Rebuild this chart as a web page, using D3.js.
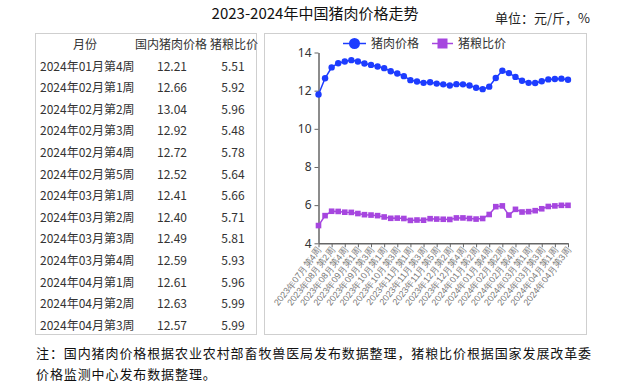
<!DOCTYPE html>
<html>
<head>
<meta charset="utf-8">
<script src="https://cdn.jsdelivr.net/npm/d3@7"></script>
<style>
  body { margin: 0; background: #fff; }
  svg { display: block; font-family: "Noto Sans CJK SC", "Noto Sans", sans-serif; }
</style>
</head>
<body>
<svg id="chart" width="631" height="387"></svg>
<script>
// weeks shown on the chart, 2023-07 wk4 .. 2024-04 wk3
var weeks = [
  "2023年07月第4周", "2023年08月第1周", "2023年08月第2周", "2023年08月第3周", "2023年08月第4周",
  "2023年08月第5周", "2023年09月第1周", "2023年09月第2周", "2023年09月第3周", "2023年09月第4周",
  "2023年10月第1周", "2023年10月第2周", "2023年10月第3周", "2023年10月第4周", "2023年11月第1周",
  "2023年11月第2周", "2023年11月第3周", "2023年11月第4周", "2023年11月第5周", "2023年12月第1周",
  "2023年12月第2周", "2023年12月第3周", "2023年12月第4周", "2024年01月第1周", "2024年01月第2周",
  "2024年01月第3周", "2024年01月第4周", "2024年02月第1周", "2024年02月第2周", "2024年02月第3周",
  "2024年02月第4周", "2024年02月第5周", "2024年03月第1周", "2024年03月第2周", "2024年03月第3周",
  "2024年03月第4周", "2024年04月第1周", "2024年04月第2周", "2024年04月第3周"
];
var porkPrice = [
  11.80, 12.65, 13.22, 13.44, 13.53, 13.60, 13.53, 13.42, 13.35, 13.27,
  13.18, 13.02, 12.90, 12.76, 12.55, 12.48, 12.41, 12.44, 12.37, 12.33,
  12.27, 12.34, 12.33, 12.27, 12.15, 12.08, 12.21, 12.66, 13.04, 12.92,
  12.72, 12.52, 12.41, 12.40, 12.49, 12.59, 12.61, 12.63, 12.57
];
var hogGrainRatio = [
  4.93, 5.45, 5.68, 5.67, 5.63, 5.62, 5.56, 5.50, 5.48, 5.45,
  5.38, 5.31, 5.32, 5.30, 5.20, 5.22, 5.21, 5.29, 5.27, 5.26,
  5.25, 5.33, 5.33, 5.30, 5.27, 5.30, 5.51, 5.92, 5.96, 5.48,
  5.78, 5.64, 5.66, 5.71, 5.81, 5.93, 5.96, 5.99, 5.99
];
var yTicks = [4, 6, 8, 10, 12, 14];
var tableHeader = ["月份", "国内猪肉价格", "猪粮比价"];
var tableRows = 13; // last 13 weeks go in the table

var title = "2023-2024年中国猪肉价格走势";
var unitText = "单位：元/斤，%";
var noteLines = [
  "注：国内猪肉价格根据农业农村部畜牧兽医局发布数据整理，猪粮比价根据国家发展改革委",
  "价格监测中心发布数据整理。"
];

var porkColor = "#1d3cff";
var ratioColor = "#a646df";

var svg = d3.select("#chart");

// title + unit
svg.append("text").attr("x", 315).attr("y", 19).attr("text-anchor", "middle")
  .attr("font-size", 15).attr("fill", "#111").text(title);
svg.append("text").attr("x", 590).attr("y", 23).attr("text-anchor", "end")
  .attr("font-size", 13).attr("fill", "#222").text(unitText);

// panels
svg.append("rect").attr("x", 35.5).attr("y", 33.5).attr("width", 221).attr("height", 301)
  .attr("fill", "none").attr("stroke", "#cfcfcf");
svg.append("rect").attr("x", 264.5).attr("y", 33.5).attr("width", 322).attr("height", 301)
  .attr("fill", "none").attr("stroke", "#cfcfcf");

// ---- table ----
var tbl = svg.append("g").attr("font-size", 12).attr("fill", "#333");
var rowY = d3.scaleLinear().domain([0, 1]).range([49, 70.6]);
var colX = [85, 171, 234];
tbl.selectAll("text.hd").data(tableHeader).enter().append("text")
  .attr("class", "hd")
  .attr("x", function(d, i){ return colX[i]; })
  .attr("y", rowY(0))
  .attr("text-anchor", "middle")
  .text(function(d){ return d; });

var start = weeks.length - tableRows;
var rows = d3.range(start, weeks.length);
var tr = tbl.selectAll("g.row").data(rows).enter().append("g").attr("class", "row");
tr.append("text").attr("x", 40).attr("y", function(d, i){ return rowY(i + 1); })
  .text(function(d){ return weeks[d]; });
tr.append("text").attr("x", 172).attr("y", function(d, i){ return rowY(i + 1); })
  .attr("text-anchor", "middle").text(function(d){ return porkPrice[d].toFixed(2); });
tr.append("text").attr("x", 233).attr("y", function(d, i){ return rowY(i + 1); })
  .attr("text-anchor", "middle").text(function(d){ return hogGrainRatio[d].toFixed(2); });

// ---- line chart ----
var x = d3.scalePoint().domain(weeks).range([318.5, 568]);
var y = d3.scaleLinear().domain([4, 14]).range([243.3, 52.5]);

var yAxis = svg.append("g").attr("transform", "translate(318.5,0)")
  .call(d3.axisLeft(y).tickValues(yTicks).tickSize(4).tickPadding(3).tickSizeOuter(0));
yAxis.select(".domain").attr("stroke", "#666").attr("stroke-width", 1.5);
yAxis.selectAll(".tick line").attr("stroke", "#666");
yAxis.selectAll(".tick text").attr("font-size", 12).attr("fill", "#333")
  .attr("font-family", "'Noto Sans', sans-serif");

var xAxis = svg.append("g").attr("transform", "translate(0,243.3)")
  .call(d3.axisBottom(x).tickValues(weeks.filter(function(d, i){ return i % 2 === 0; }))
    .tickSize(4).tickSizeOuter(0));
xAxis.select(".domain").attr("stroke", "#666").attr("stroke-width", 1.5);
xAxis.selectAll(".tick line").attr("stroke", "#666");
xAxis.selectAll(".tick text")
  .attr("font-size", 9).attr("fill", "#777")
  .attr("text-anchor", "end")
  .attr("dy", null).attr("y", 0)
  .attr("transform", "translate(3,7) rotate(-52)");

var porkLine = d3.line().x(function(d, i){ return x(weeks[i]); }).y(function(d){ return y(d); });

svg.append("path").datum(hogGrainRatio).attr("d", porkLine)
  .attr("fill", "none").attr("stroke", ratioColor).attr("stroke-width", 1.5);
svg.append("g").selectAll("rect").data(hogGrainRatio).enter().append("rect")
  .attr("x", function(d, i){ return x(weeks[i]) - 2.8; })
  .attr("y", function(d){ return y(d) - 2.8; })
  .attr("width", 5.6).attr("height", 5.6).attr("fill", ratioColor);

svg.append("path").datum(porkPrice).attr("d", porkLine)
  .attr("fill", "none").attr("stroke", porkColor).attr("stroke-width", 1.5);
svg.append("g").selectAll("circle").data(porkPrice).enter().append("circle")
  .attr("cx", function(d, i){ return x(weeks[i]); })
  .attr("cy", function(d){ return y(d); })
  .attr("r", 3.2).attr("fill", porkColor);

// legend
var lg = svg.append("g").attr("font-size", 12).attr("fill", "#333");
lg.append("line").attr("x1", 343).attr("x2", 366).attr("y1", 43.5).attr("y2", 43.5)
  .attr("stroke", porkColor).attr("stroke-width", 1.5);
lg.append("circle").attr("cx", 354.5).attr("cy", 43.5).attr("r", 5.5).attr("fill", porkColor);
lg.append("text").attr("x", 371).attr("y", 48).text("猪肉价格");
lg.append("line").attr("x1", 432).attr("x2", 453).attr("y1", 43.5).attr("y2", 43.5)
  .attr("stroke", ratioColor).attr("stroke-width", 1.5);
lg.append("rect").attr("x", 437.5).attr("y", 38.5).attr("width", 10).attr("height", 10).attr("fill", ratioColor);
lg.append("text").attr("x", 458).attr("y", 48).text("猪粮比价");

// footnote
svg.append("g").selectAll("text").data(noteLines).enter().append("text")
  .attr("x", 36).attr("y", function(d, i){ return 358 + i * 21; })
  .attr("font-size", 13).attr("letter-spacing", 0.9).attr("fill", "#111")
  .text(function(d){ return d; });
</script>
</body>
</html>
